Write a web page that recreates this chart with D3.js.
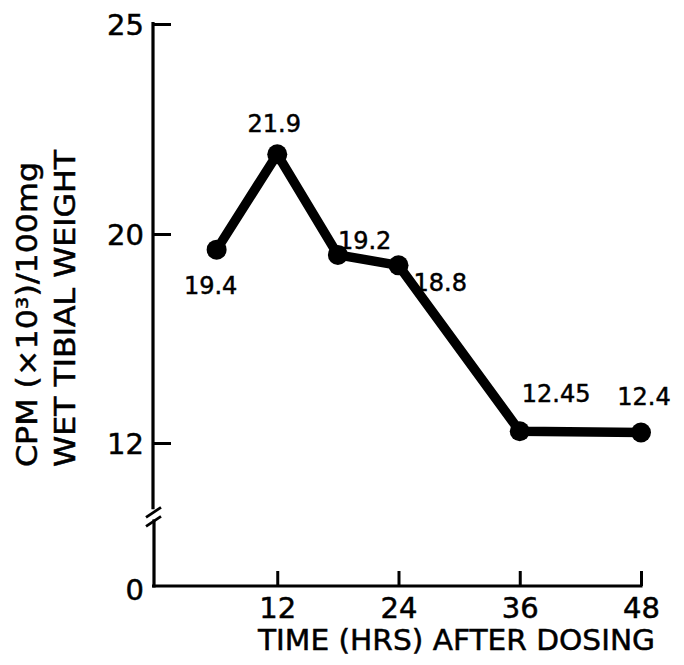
<!DOCTYPE html>
<html>
<head>
<meta charset="utf-8">
<script src="https://cdn.jsdelivr.net/npm/d3@7"></script>
<style>
  html, body { margin: 0; padding: 0; background: #fff; }
  svg { display: block; }
  text { font-family: "DejaVu Sans", sans-serif; fill: #000; stroke: #000; stroke-width: 0.5px; }
</style>
</head>
<body>
<div id="chart"></div>
<script>
// ---- data ----
const hours = [6, 12, 18, 24, 36, 48];
const cpm = [19.4, 21.9, 19.2, 18.8, 12.45, 12.4];
const pointLabels = ["19.4", "21.9", "19.2", "18.8", "12.45", "12.4"];
const xTickValues = [12, 24, 36, 48];
const yTickValues = [0, 12, 20, 25];
const xTitle = "TIME (HRS) AFTER DOSING";
const yTitleLine1 = "CPM  (×10³)/100mg";
const yTitleLine2 = "WET TIBIAL WEIGHT";

// ---- layout ----
const W = 684, H = 665;
const axisX = 153, axisY = 586;
// label placement relative to each point (anchor, dx, dy)
const labelLayout = [
  { anchor: "middle", dx: -6, dy: 44 },
  { anchor: "middle", dx: -3, dy: -22 },
  { anchor: "start",  dx: 0,  dy: -6 },
  { anchor: "start",  dx: 15, dy: 26 },
  { anchor: "start",  dx: 2,  dy: -29 },
  { anchor: "middle", dx: 3,  dy: -28 }
];

const svg = d3.select("#chart").append("svg")
  .attr("width", W).attr("height", H);

// scales (y is piecewise to reflect the axis break and the hand-drawn spacing)
const x = d3.scaleLinear().domain([0, 48]).range([156, 641]);
const y = d3.scaleLinear().domain([0, 12, 20, 25]).range([axisY, 443, 234, 24]);

// ---- y axis ----
const yAxis = d3.axisLeft(y)
  .tickValues(yTickValues)
  .tickSizeInner(-18)
  .tickSizeOuter(0)
  .tickPadding(9)
  .tickFormat(d3.format("d"));

const gy = svg.append("g").attr("transform", `translate(${axisX},0)`).call(yAxis);
gy.select(".domain").remove();
gy.selectAll(".tick line").attr("stroke", "#000").attr("stroke-width", 3)
  .filter(d => d === 0).remove();
gy.selectAll(".tick text").attr("font-size", 29).attr("dy", "0.36em")
  .attr("font-family", "DejaVu Sans, sans-serif");
gy.selectAll(".tick").filter(d => d === 0).select("text").attr("dy", "0.46em");

// y axis line with break
const breakY = y(0) - 0.48 * (y(0) - y(12));
svg.append("line").attr("x1", axisX).attr("x2", axisX)
  .attr("y1", y(25) - 2).attr("y2", breakY - 8)
  .attr("stroke", "#000").attr("stroke-width", 3.2);
svg.append("line").attr("x1", axisX + 1).attr("x2", axisX + 1)
  .attr("y1", breakY + 2).attr("y2", axisY + 1.5)
  .attr("stroke", "#000").attr("stroke-width", 3.2);
[-5, 4].forEach(o => {
  svg.append("line")
    .attr("x1", axisX - 7).attr("y1", breakY + 5 + o)
    .attr("x2", axisX + 8).attr("y2", breakY - 5 + o)
    .attr("stroke", "#000").attr("stroke-width", 2.8);
});

// ---- x axis ----
const xAxis = d3.axisBottom(x)
  .tickValues(xTickValues)
  .tickSizeInner(-15)
  .tickSizeOuter(0)
  .tickPadding(11);
const gx = svg.append("g").attr("transform", `translate(0,${axisY})`).call(xAxis);
gx.select(".domain").remove();
gx.selectAll(".tick line").attr("stroke", "#000").attr("stroke-width", 3);
gx.selectAll(".tick text").attr("font-size", 29)
  .attr("font-family", "DejaVu Sans, sans-serif");
svg.append("line").attr("x1", axisX - 1).attr("x2", x(48) + 1.5)
  .attr("y1", axisY).attr("y2", axisY)
  .attr("stroke", "#000").attr("stroke-width", 3.2);

// ---- titles ----
svg.append("text").attr("x", 258).attr("y", 650)
  .attr("font-size", 29).attr("textLength", 397).attr("lengthAdjust", "spacingAndGlyphs")
  .text(xTitle);
svg.append("text")
  .attr("transform", "translate(37,467) rotate(-90)")
  .attr("font-size", 28).attr("textLength", 305).attr("lengthAdjust", "spacingAndGlyphs")
  .text(yTitleLine1);
svg.append("text")
  .attr("transform", "translate(75,467) rotate(-90)")
  .attr("font-size", 28).attr("textLength", 317).attr("lengthAdjust", "spacingAndGlyphs")
  .text(yTitleLine2);

// ---- series ----
const data = hours.map((h, i) => ({ h, v: cpm[i], label: pointLabels[i], lay: labelLayout[i] }));
const line = d3.line().x(d => x(d.h)).y(d => y(d.v));
svg.append("path").datum(data).attr("d", line)
  .attr("fill", "none").attr("stroke", "#000").attr("stroke-width", 9.5)
  .attr("stroke-linejoin", "round").attr("stroke-linecap", "round");
svg.selectAll("circle.pt").data(data).enter().append("circle")
  .attr("class", "pt")
  .attr("cx", d => x(d.h)).attr("cy", d => y(d.v)).attr("r", 10)
  .attr("fill", "#000");
svg.selectAll("text.lbl").data(data).enter().append("text")
  .attr("class", "lbl")
  .attr("x", d => x(d.h) + d.lay.dx).attr("y", d => y(d.v) + d.lay.dy)
  .attr("text-anchor", d => d.lay.anchor)
  .attr("font-size", 24)
  .text(d => d.label);
</script>
</body>
</html>
